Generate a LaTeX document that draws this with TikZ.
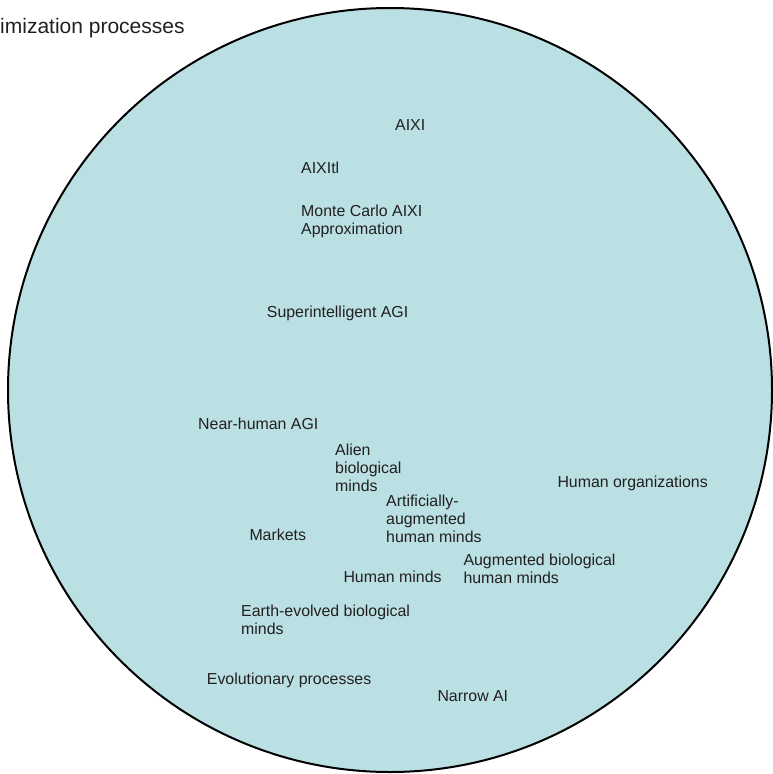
\documentclass[tikz,border=0pt]{standalone}
\usepackage{fontspec}
\setmainfont{Liberation Sans}
\definecolor{regionfill}{RGB}{186,224,227}
\definecolor{labeltext}{RGB}{35,31,32}
\begin{document}
\begin{tikzpicture}[x=1pt,y=-1pt,
  lbl/.style={anchor=base west,inner sep=0pt,text=labeltext,
    font=\fontsize{15.9}{17.8}\selectfont,align=left}]
\useasboundingbox (0,0) rectangle (773,774);
\clip (0,0) rectangle (773,774);
% the space of optimization processes
\draw[line width=2pt,fill=regionfill] (390,390) circle[radius=382];
\node[lbl,anchor=base east,font=\fontsize{21}{24}\selectfont] (title) at (184.8,33.3) {Optimization processes};
% processes placed inside the space (multi-line nodes sit on their last baseline)
\node[lbl] (aixi) at (395,130) {AIXI};
\node[lbl] (aixitl) at (301,173.3) {AIXItl};
\node[lbl] (mcaixi) at (301,234) {Monte Carlo AIXI\\Approximation};
\node[lbl] (superagi) at (266.7,317.7) {Superintelligent AGI};
\node[lbl] (nearagi) at (198,429) {Near-human AGI};
\node[lbl] (alien) at (335,491) {Alien\\biological\\minds};
\node[lbl] (humorg) at (557.3,487.3) {Human organizations};
\node[lbl] (artaug) at (386,542) {Artificially-\\augmented\\human minds};
\node[lbl] (markets) at (249.3,540) {Markets};
\node[lbl] (augbio) at (463.3,583.5) {Augmented biological\\human minds};
\node[lbl] (humminds) at (343.3,582.7) {Human minds};
\node[lbl] (earthbio) at (241,634.3) {Earth-evolved biological\\minds};
\node[lbl] (evol) at (206.7,684.3) {Evolutionary processes};
\node[lbl] (narrow) at (437.3,701.7) {Narrow AI};
\end{tikzpicture}
\end{document}
